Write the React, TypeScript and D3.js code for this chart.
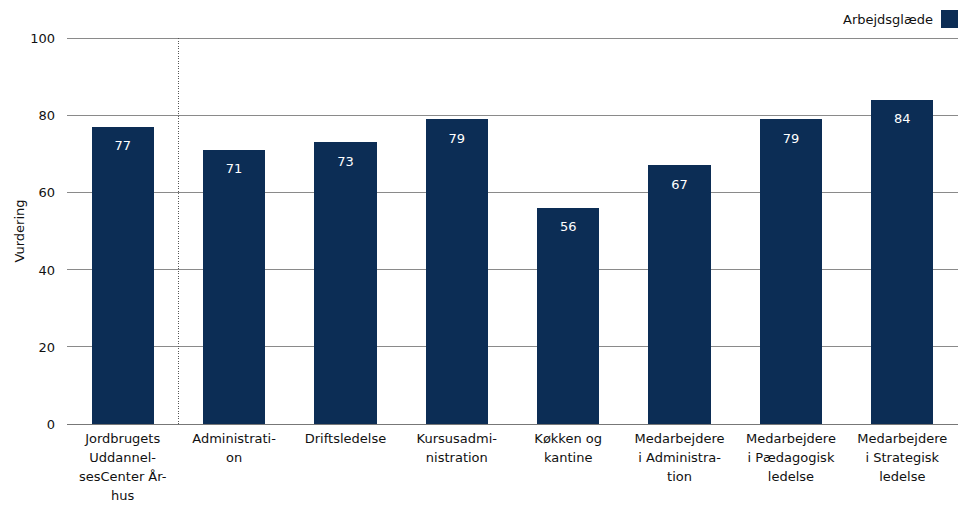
import React from "react";
import * as d3 from "d3";

const categories: string[][] = [
  ["Jordbrugets", "Uddannel-", "sesCenter År-", "hus"],
  ["Administrati-", "on"],
  ["Driftsledelse"],
  ["Kursusadmi-", "nistration"],
  ["Køkken og", "kantine"],
  ["Medarbejdere", "i Administra-", "tion"],
  ["Medarbejdere", "i Pædagogisk", "ledelse"],
  ["Medarbejdere", "i Strategisk", "ledelse"],
];
const values: number[] = [77, 71, 73, 79, 56, 67, 79, 84];
const yTicks: number[] = [0, 20, 40, 60, 80, 100];
const seriesName = "Arbejdsglæde";
const yLabel = "Vurdering";

const W = 967;
const H = 505;
const FONT = "'DejaVu Sans', Verdana, sans-serif";
const BAR = "#0c2d55";

export default function App() {
  const left = 67;
  const right = 958;
  const top = 38;
  const bottom = 424;
  const x = d3
    .scaleBand<number>()
    .domain(values.map((_, i) => i))
    .range([left, right])
    .paddingInner(0.44)
    .paddingOuter(0.22);
  const y = d3.scaleLinear().domain([0, 100]).range([bottom, top]);
  const step = x.step();
  const sepX = left + step;

  return (
    <svg
      width={W}
      height={H}
      style={{ position: "absolute", left: 0, top: 0, background: "#fff" }}
      fontFamily={FONT}
    >
      {yTicks.map((t) => (
        <g key={t}>
          <line
            x1={left}
            x2={right}
            y1={y(t)}
            y2={y(t)}
            stroke={t === 0 ? "#777" : "#8a8a8a"}
            strokeWidth={1}
            shapeRendering="crispEdges"
          />
          <text x={55} y={y(t) + 5} textAnchor="end" fontSize={13} fill="#111">
            {t}
          </text>
        </g>
      ))}
      <line
        x1={sepX}
        x2={sepX}
        y1={top}
        y2={bottom}
        stroke="#555"
        strokeDasharray="1,1.5"
        strokeWidth={1}
        shapeRendering="crispEdges"
      />
      {values.map((v, i) => (
        <g key={i}>
          <rect
            x={x(i)}
            y={y(v)}
            width={x.bandwidth()}
            height={bottom - y(v)}
            fill={BAR}
            shapeRendering="crispEdges"
          />
          <text
            x={(x(i) as number) + x.bandwidth() / 2}
            y={y(v) + 23.5}
            textAnchor="middle"
            fontSize={13}
            fill="#fff"
          >
            {v}
          </text>
        </g>
      ))}
      {categories.map((lines, i) => (
        <text
          key={i}
          x={(x(i) as number) + x.bandwidth() / 2}
          textAnchor="middle"
          fontSize={13}
          fill="#111"
        >
          {lines.map((l, j) => (
            <tspan key={j} x={(x(i) as number) + x.bandwidth() / 2} y={443 + j * 19}>
              {l}
            </tspan>
          ))}
        </text>
      ))}
      <text
        transform={`translate(24,${(top + bottom) / 2}) rotate(-90)`}
        textAnchor="middle"
        fontSize={13}
        fill="#111"
      >
        {yLabel}
      </text>
      <rect x={941} y={10} width={17} height={18} fill={BAR} />
      <text x={933} y={24} textAnchor="end" fontSize={13} fill="#111">
        {seriesName}
      </text>
    </svg>
  );
}
